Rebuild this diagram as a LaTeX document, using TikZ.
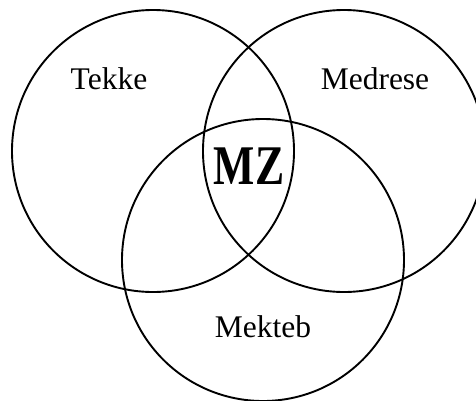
\documentclass[tikz,border=0pt]{standalone}
\usepackage{fontspec}
\setmainfont{Liberation Serif}
\usetikzlibrary{positioning}
\tikzset{
  setcircle/.style={circle, draw=black, line width=1.9pt, minimum size=282pt, inner sep=0pt},
  setlabel/.style={anchor=base, inner sep=0pt, font=\fontsize{31.5}{36}\selectfont},
  corelabel/.style={anchor=base, inner sep=0pt, font=\bfseries\fontsize{56}{60}\selectfont}
}
\begin{document}
\begin{tikzpicture}[x=1pt,y=-1pt]
  \useasboundingbox (0,0) rectangle (476,400);
  % the three overlapping sets
  \node[setcircle] (tekke)   at (153,151) {};
  \node[setcircle] (medrese) at (344,151) {};
  \node[setcircle] (mekteb)  at (263,260) {};
  % set names
  \node[setlabel] (tekkelbl)   at (109,89)  {Tekke};
  \node[setlabel] (medreselbl) at (375,89)  {Medrese};
  \node[setlabel] (mektebl)    at (263,337) {Mekteb};
  % common intersection
  \node[corelabel] (mz) at (249,184) {\scalebox{0.78}[1]{MZ}};
\end{tikzpicture}
\end{document}
